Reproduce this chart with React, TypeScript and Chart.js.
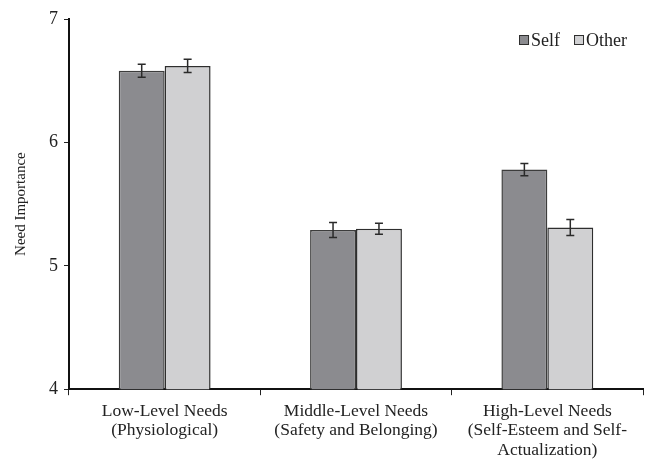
import React, { useEffect, useRef } from "react";
import { Chart, registerables } from "chart.js";

Chart.register(...registerables);

const categories: string[][] = [
  ["Low-Level Needs", "(Physiological)"],
  ["Middle-Level Needs", "(Safety and Belonging)"],
  ["High-Level Needs", "(Self-Esteem and Self-", "Actualization)"],
];
const seriesNames = ["Self", "Other"];
const selfValues = [6.58, 5.29, 5.78];
const otherValues = [6.62, 5.3, 5.31];
const selfErrors = [0.053, 0.06, 0.05];
const otherErrors = [0.053, 0.045, 0.065];
const yTicks = [4, 5, 6, 7];

const FONT = "'Liberation Serif', 'Times New Roman', serif";

const errorBarPlugin = {
  id: "errorBars",
  afterDatasetsDraw(chart: any) {
    const ctx = chart.ctx;
    const y = chart.scales.y;
    const errs = [selfErrors, otherErrors];
    ctx.save();
    ctx.strokeStyle = "#2a2a2a";
    ctx.lineWidth = 1.5;
    chart.data.datasets.forEach((ds: any, di: number) => {
      const meta = chart.getDatasetMeta(di);
      meta.data.forEach((bar: any, i: number) => {
        const v = ds.data[i];
        const e = errs[di][i];
        const x = bar.x;
        const yt = y.getPixelForValue(v + e);
        const yb = y.getPixelForValue(v - e);
        ctx.beginPath();
        ctx.moveTo(x, yt);
        ctx.lineTo(x, yb);
        ctx.moveTo(x - 4, yt);
        ctx.lineTo(x + 4, yt);
        ctx.moveTo(x - 4, yb);
        ctx.lineTo(x + 4, yb);
        ctx.stroke();
      });
    });
    ctx.restore();
  },
};

const legendPlugin = {
  id: "customLegend",
  afterDraw(chart: any) {
    const ctx = chart.ctx;
    const area = chart.chartArea;
    ctx.save();
    ctx.font = `18px ${FONT}`;
    ctx.textBaseline = "middle";
    const box = 10;
    const gapBoxText = 2;
    const gapItems = 14;
    const widths = seriesNames.map((n) => ctx.measureText(n).width);
    let total = 0;
    widths.forEach((w, i) => {
      total += box + gapBoxText + w + (i < widths.length - 1 ? gapItems : 0);
    });
    let x = area.right - 16 - total;
    const cy = area.top + 21;
    chart.data.datasets.forEach((ds: any, i: number) => {
      ctx.fillStyle = ds.backgroundColor;
      ctx.fillRect(x, cy - box / 2, box, box);
      ctx.strokeStyle = "#2e2e2e";
      ctx.lineWidth = 1;
      ctx.strokeRect(x + 0.5, cy - box / 2 + 0.5, box - 1, box - 1);
      ctx.fillStyle = "#222";
      ctx.fillText(seriesNames[i], x + box + gapBoxText, cy + 1);
      x += box + gapBoxText + widths[i] + gapItems;
    });
    ctx.restore();
  },
};

export default function App() {
  const ref = useRef<HTMLCanvasElement>(null);
  useEffect(() => {
    const chart = new Chart(ref.current!, {
      type: "bar",
      data: {
        labels: categories,
        datasets: [
          {
            label: seriesNames[0],
            data: selfValues,
            backgroundColor: "#8b8b8f",
            borderColor: "#3c3c3c",
            borderWidth: 1.5,
            categoryPercentage: 0.48,
            barPercentage: 1.0,
          },
          {
            label: seriesNames[1],
            data: otherValues,
            backgroundColor: "#d0d0d2",
            borderColor: "#2e2e2e",
            borderWidth: 1.5,
            categoryPercentage: 0.48,
            barPercentage: 1.0,
          },
        ],
      },
      options: {
        responsive: false,
        animation: false,
        layout: { padding: { top: 19, right: 3, left: 12, bottom: -7 } },
        plugins: {
          tooltip: { enabled: false },
          legend: { display: false },
        },
        scales: {
          x: {
            grid: {
              offset: true,
              drawOnChartArea: false,
              drawTicks: true,
              tickLength: 6,
              color: "#222",
            },
            border: { display: true, color: "#111", width: 2 },
            ticks: {
              color: "#222",
              font: { family: FONT, size: 17.5, lineHeight: 1.12 },
              maxRotation: 0,
              autoSkip: false,
              padding: 6,
            },
          },
          y: {
            min: 4,
            max: 7,
            afterBuildTicks: (axis: any) => {
              axis.ticks = yTicks.map((v) => ({ value: v }));
            },
            grid: {
              drawOnChartArea: false,
              drawTicks: true,
              tickLength: 5,
              color: "#222",
            },
            border: { display: true, color: "#111", width: 2 },
            ticks: {
              color: "#222",
              font: { family: FONT, size: 18 },
              padding: 6,
            },
            title: {
              display: true,
              text: "Need Importance",
              color: "#222",
              font: { family: FONT, size: 15 },
              padding: { top: 0, bottom: 13 },
            },
          },
        },
      },
      plugins: [errorBarPlugin, legendPlugin],
    });
    return () => chart.destroy();
  }, []);
  return (
    <div style={{ position: "fixed", left: 0, top: 0, width: 646, height: 459, background: "#fff" }}>
      <canvas ref={ref} width={646} height={459} />
    </div>
  );
}
